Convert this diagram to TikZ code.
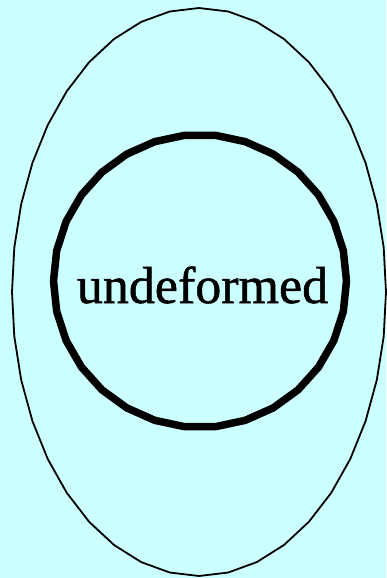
\documentclass[tikz,border=0pt]{standalone}
\usepackage{fontspec}
\setmainfont{Liberation Serif}
\newfontfamily\labelfont[FakeBold=1]{Liberation Serif}
\definecolor{bgcyan}{RGB}{204,255,255}
\begin{document}
\begin{tikzpicture}[x=1pt,y=-1pt]
% background, same size as the image
\fill[bgcyan] (0,0) rectangle (386,578);
\useasboundingbox (0,0) rectangle (386,578);
% outer ellipse, 40 segments
\draw[line width=1.8pt,line join=round] plot[domain=0:360,samples=41] ({199+187*cos(\x)},{292+284*sin(\x)}) -- cycle;
% inner circle, thick, 30 segments
\draw[line width=7.5pt,line join=round] plot[domain=0:360,samples=31] ({200+146.5*cos(\x)},{281+146.5*sin(\x)}) -- cycle;
\node[font=\labelfont\fontsize{52}{60}\selectfont,anchor=base,inner sep=0pt] (label) at (202.5,303) {undeformed};
\end{tikzpicture}
\end{document}
